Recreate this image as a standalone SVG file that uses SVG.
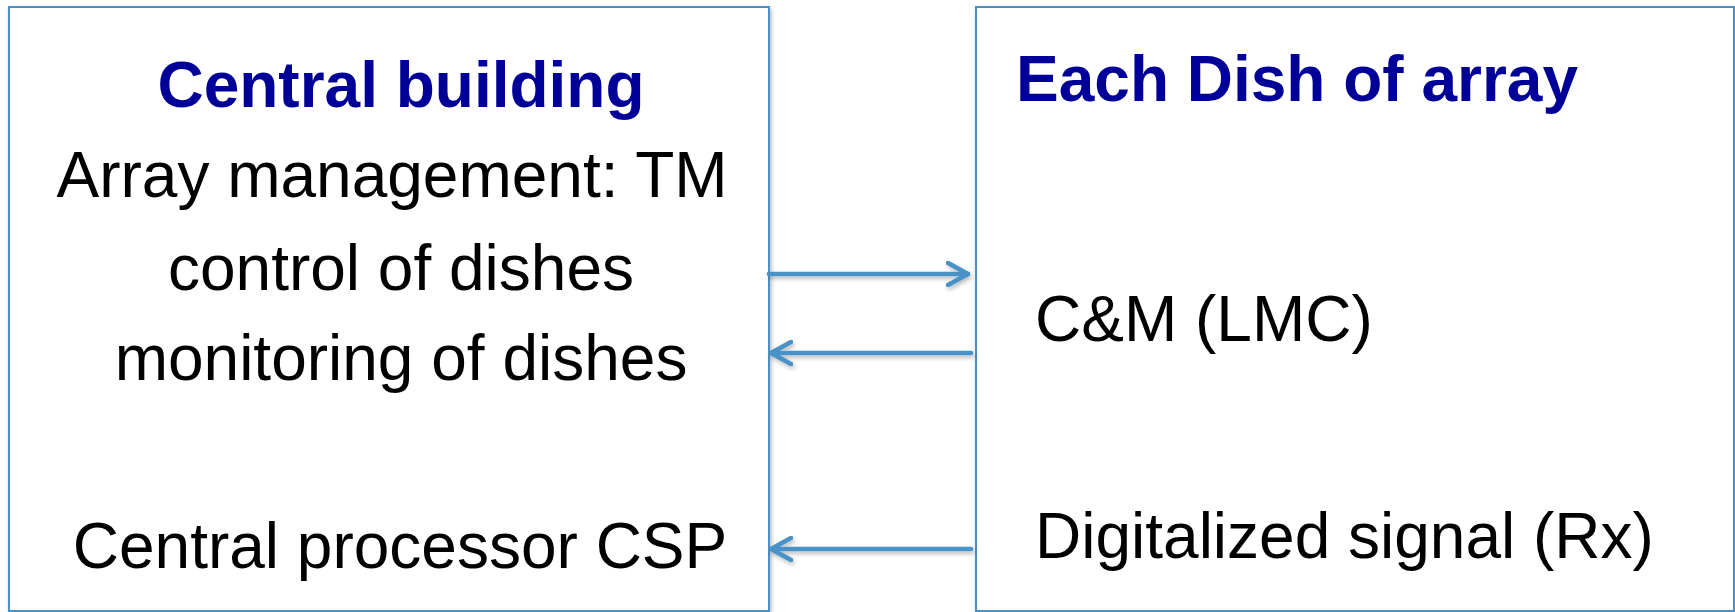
<svg xmlns="http://www.w3.org/2000/svg" width="1735" height="612" viewBox="0 0 1735 612">
  <defs>
    <filter id="shadow" x="-5%" y="-20%" width="110%" height="140%">
      <feDropShadow dx="1.5" dy="2.5" stdDeviation="2" flood-color="#000" flood-opacity="0.28"/>
    </filter>
    <marker id="chev" viewBox="0 0 24 26" refX="22" refY="13" markerWidth="24" markerHeight="26" markerUnits="userSpaceOnUse" orient="auto">
      <path d="M2,2 L22,13 L2,24" fill="none" stroke="#4a92c8" stroke-width="4.6" stroke-linecap="round" stroke-linejoin="round"/>
    </marker>
    <style>
      .box { fill: #ffffff; stroke: #4a92c8; stroke-width: 2; }
      .title { font-family: "Liberation Sans", Arial, sans-serif; font-weight: bold; font-size: 64px; fill: #000099; }
      .label { font-family: "Liberation Sans", Arial, sans-serif; font-size: 64px; fill: #000000; }
      .link { fill: none; stroke: #4a92c8; stroke-width: 4.6; stroke-linecap: round; marker-end: url(#chev); }
    </style>
  </defs>

  <rect width="1735" height="612" fill="#ffffff"/>

  <!-- Central building -->
  <g id="central-building">
    <rect class="box" x="9" y="7" width="760" height="604" filter="url(#shadow)"/>
    <text class="title" x="401" y="107" text-anchor="middle">Central building</text>
    <text class="label" x="392" y="197" text-anchor="middle">Array management: TM</text>
    <text class="label" x="401" y="290" text-anchor="middle">control of dishes</text>
    <text class="label" x="401" y="380" text-anchor="middle">monitoring of dishes</text>
    <text class="label" x="400" y="568" text-anchor="middle">Central processor CSP</text>
  </g>

  <!-- Each dish of the array -->
  <g id="dish">
    <rect class="box" x="976" y="7" width="758" height="604" filter="url(#shadow)"/>
    <text class="title" x="1016" y="101">Each Dish of array</text>
    <text class="label" x="1035" y="341">C&amp;M (LMC)</text>
    <text class="label" x="1035" y="558">Digitalized signal (Rx)</text>
  </g>

  <!-- Connectors -->
  <g id="connectors" filter="url(#shadow)">
    <line class="link" x1="769" y1="274" x2="968" y2="274"/>
    <line class="link" x1="971" y1="353" x2="771" y2="353"/>
    <line class="link" x1="971" y1="549" x2="771" y2="549"/>
  </g>
</svg>
